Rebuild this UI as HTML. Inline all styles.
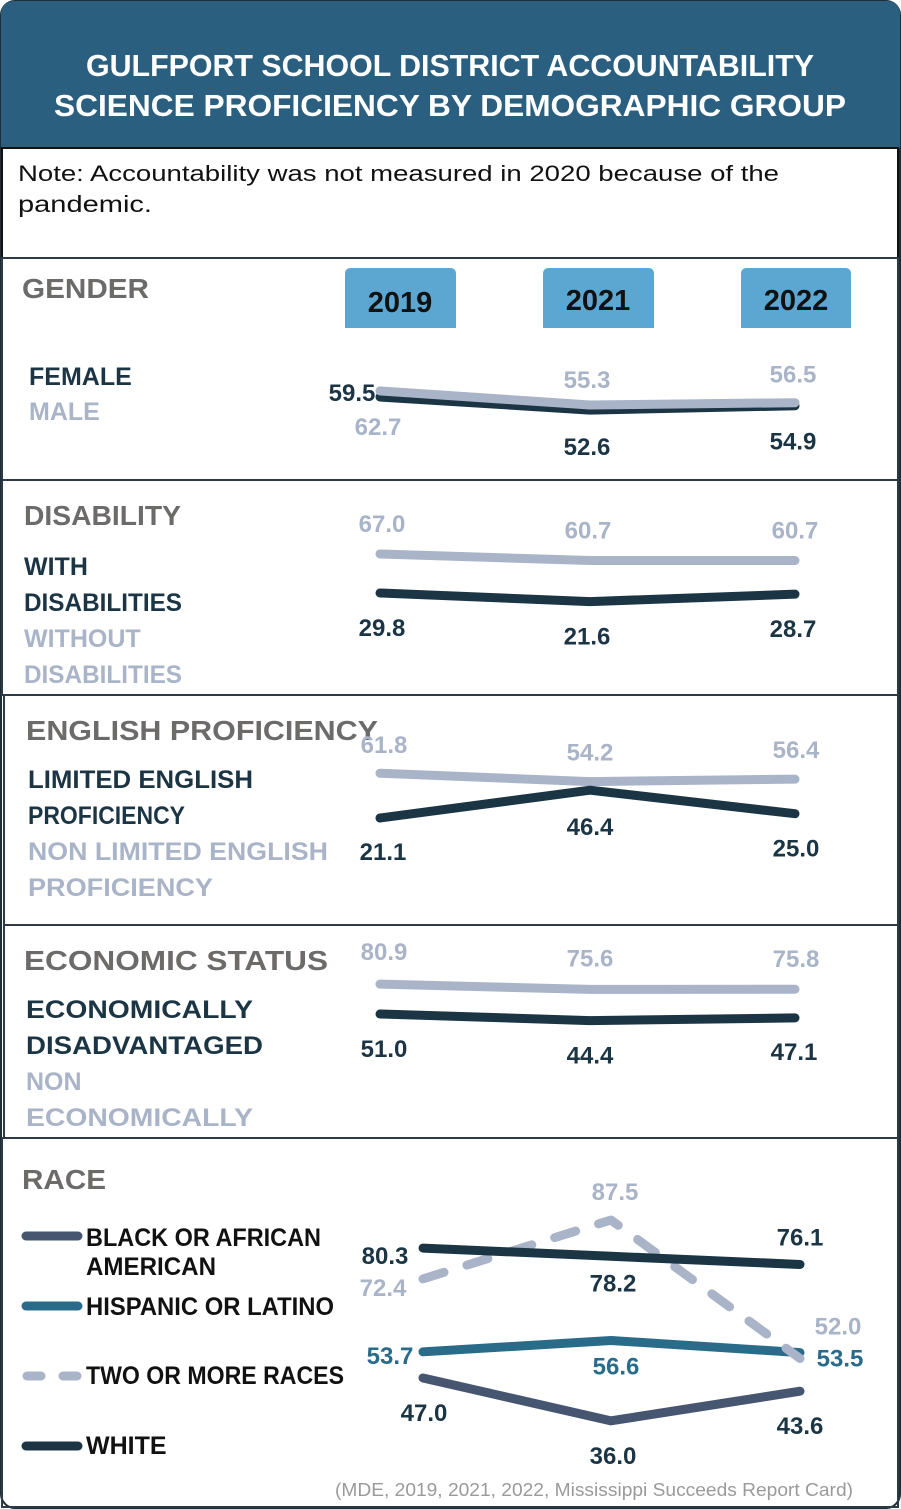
<!DOCTYPE html>
<html><head><meta charset="utf-8"><style>
html,body{margin:0;padding:0;background:#fff;}
svg{display:block;font-family:"Liberation Sans",sans-serif;}
.h{font-weight:bold;font-size:28px;fill:#6d6a6a;}
.s{font-weight:bold;font-size:25px;}
.v{font-weight:bold;font-size:24px;text-anchor:middle;}
</style></head><body>
<svg id="c" width="901" height="1509" viewBox="0 0 901 1509">
<rect x="1" y="1" width="899" height="1507" rx="14" fill="#fff" stroke="#1f2d36" stroke-width="2"/>
<path d="M1 148 V15 Q1 1 15 1 H886 Q900 1 900 15 V148 Z" fill="#2a5f80"/>
<text x="450" y="76" text-anchor="middle" fill="#fff" font-weight="bold" font-size="31" textLength="728" lengthAdjust="spacingAndGlyphs">GULFPORT SCHOOL DISTRICT ACCOUNTABILITY</text>
<text x="450" y="116" text-anchor="middle" fill="#fff" font-weight="bold" font-size="31" textLength="792" lengthAdjust="spacingAndGlyphs">SCIENCE PROFICIENCY BY DEMOGRAPHIC GROUP</text>
<rect x="2" y="148" width="896" height="110" fill="#fff" stroke="#111" stroke-width="2"/>
<text x="18" y="181" font-size="22" fill="#111" textLength="761" lengthAdjust="spacingAndGlyphs">Note: Accountability was not measured in 2020 because of the</text>
<text x="18" y="212" font-size="23" fill="#111" textLength="134" lengthAdjust="spacingAndGlyphs">pandemic.</text>
<rect x="2" y="258" width="896" height="222" fill="none" stroke="#2b3a44" stroke-width="2"/>
<rect x="2" y="480" width="896" height="215" fill="none" stroke="#2b3a44" stroke-width="2"/>
<rect x="4" y="695" width="894" height="230" fill="none" stroke="#2b3a44" stroke-width="2"/>
<rect x="4" y="925" width="894" height="213" fill="none" stroke="#2b3a44" stroke-width="2"/>
<rect x="2" y="1138" width="896" height="369" fill="none" stroke="#2b3a44" stroke-width="2"/>
<g>
<path d="M345 328 V274 Q345 268 351 268 H450 Q456 268 456 274 V328 Z" fill="#5ba7d1"/>
<path d="M543 328 V274 Q543 268 549 268 H648 Q654 268 654 274 V328 Z" fill="#5ba7d1"/>
<path d="M741 328 V274 Q741 268 747 268 H845 Q851 268 851 274 V328 Z" fill="#5ba7d1"/>
<text x="400" y="312" text-anchor="middle" font-weight="bold" font-size="29" fill="#111">2019</text>
<text x="598" y="310" text-anchor="middle" font-weight="bold" font-size="29" fill="#111">2021</text>
<text x="796" y="310" text-anchor="middle" font-weight="bold" font-size="29" fill="#111">2022</text>
</g>
<text class="h" x="22" y="298" textLength="127" lengthAdjust="spacingAndGlyphs">GENDER</text>
<text class="s" x="29" y="385" fill="#1b3545">FEMALE</text>
<text class="s" x="29" y="420" fill="#aab4c8">MALE</text>
<text class="h" x="24" y="525" textLength="157" lengthAdjust="spacingAndGlyphs">DISABILITY</text>
<text class="s" x="24" y="575" fill="#1b3545">WITH</text>
<text class="s" x="24" y="611" fill="#1b3545" textLength="158" lengthAdjust="spacingAndGlyphs">DISABILITIES</text>
<text class="s" x="24" y="647" fill="#aab4c8">WITHOUT</text>
<text class="s" x="24" y="683" fill="#aab4c8" textLength="158" lengthAdjust="spacingAndGlyphs">DISABILITIES</text>
<text class="h" x="26" y="740" textLength="352" lengthAdjust="spacingAndGlyphs">ENGLISH PROFICIENCY</text>
<text class="s" x="28" y="788" fill="#1b3545" textLength="225" lengthAdjust="spacingAndGlyphs">LIMITED ENGLISH</text>
<text class="s" x="28" y="824" fill="#1b3545" textLength="157" lengthAdjust="spacingAndGlyphs">PROFICIENCY</text>
<text class="s" x="28" y="860" fill="#aab4c8" textLength="300" lengthAdjust="spacingAndGlyphs">NON LIMITED ENGLISH</text>
<text class="s" x="28" y="896" fill="#aab4c8" textLength="185" lengthAdjust="spacingAndGlyphs">PROFICIENCY</text>
<text class="h" x="24" y="970" textLength="304" lengthAdjust="spacingAndGlyphs">ECONOMIC STATUS</text>
<text class="s" x="26" y="1018" fill="#1b3545" textLength="227" lengthAdjust="spacingAndGlyphs">ECONOMICALLY</text>
<text class="s" x="26" y="1054" fill="#1b3545" textLength="237" lengthAdjust="spacingAndGlyphs">DISADVANTAGED</text>
<text class="s" x="26" y="1090" fill="#aab4c8">NON</text>
<text class="s" x="26" y="1126" fill="#aab4c8" textLength="227" lengthAdjust="spacingAndGlyphs">ECONOMICALLY</text>
<text class="h" x="22" y="1189" textLength="84" lengthAdjust="spacingAndGlyphs">RACE</text>
<g>
<line x1="26" y1="1236" x2="78" y2="1236" stroke="#465570" stroke-width="9" stroke-linecap="round"/>
<text class="s" x="86" y="1246" fill="#111" font-size="24" textLength="235" lengthAdjust="spacingAndGlyphs">BLACK OR AFRICAN</text>
<text class="s" x="86" y="1275" fill="#111" font-size="24" textLength="130" lengthAdjust="spacingAndGlyphs">AMERICAN</text>
<line x1="26" y1="1306" x2="78" y2="1306" stroke="#2a6b8a" stroke-width="9" stroke-linecap="round"/>
<text class="s" x="86" y="1315" fill="#111" font-size="24" textLength="248" lengthAdjust="spacingAndGlyphs">HISPANIC OR LATINO</text>
<line x1="27" y1="1376" x2="78" y2="1376" stroke="#aab4c8" stroke-width="9" stroke-linecap="round" stroke-dasharray="14 22"/>
<text class="s" x="86" y="1384" fill="#111" font-size="24" textLength="258" lengthAdjust="spacingAndGlyphs">TWO OR MORE RACES</text>
<line x1="26" y1="1446" x2="78" y2="1446" stroke="#1b3545" stroke-width="9" stroke-linecap="round"/>
<text class="s" x="86" y="1454" fill="#111" font-size="24">WHITE</text>
</g>
<text x="853" y="1496" text-anchor="end" font-size="18" fill="#9a9a9a" textLength="518" lengthAdjust="spacingAndGlyphs">(MDE, 2019, 2021, 2022, Mississippi Succeeds Report Card)</text>
<g id="marks"></g>
</svg>
<script>
const years = ["2019", "2021", "2022"];
const femaleVals = [59.5, 52.6, 54.9];
const maleVals = [62.7, 55.3, 56.5];
const withDisVals = [29.8, 21.6, 28.7];
const withoutDisVals = [67.0, 60.7, 60.7];
const lepVals = [21.1, 46.4, 25.0];
const nonLepVals = [61.8, 54.2, 56.4];
const econDisVals = [51.0, 44.4, 47.1];
const nonEconVals = [80.9, 75.6, 75.8];
const blackVals = [47.0, 36.0, 43.6];
const hispanicVals = [53.7, 56.6, 53.5];
const twoMoreVals = [72.4, 87.5, 52.0];
const whiteVals = [80.3, 78.2, 76.1];

const NS = "http://www.w3.org/2000/svg";
const g = document.getElementById("marks");
const xPanel = i => [380, 590, 795][i];
const xRace = i => [423, 611, 800][i];
const DARK = "#1b3545", LIGHT = "#aab4c8";

function drawSeries(name, vals, xf, yf, color, dash, offs, lblColor) {
  const pts = vals.map((v, i) => [xf(i), yf(v)]);
  const pl = document.createElementNS(NS, "polyline");
  pl.setAttribute("points", pts.map(p => p.join(",")).join(" "));
  pl.setAttribute("fill", "none");
  pl.setAttribute("stroke", color);
  pl.setAttribute("stroke-width", "9");
  pl.setAttribute("stroke-linecap", "round");
  pl.setAttribute("stroke-linejoin", "round");
  if (dash) pl.setAttribute("stroke-dasharray", dash);
  
  
  g.appendChild(pl);
  vals.forEach((v, i) => {
    const t = document.createElementNS(NS, "text");
    t.setAttribute("class", "v");
    t.setAttribute("x", pts[i][0] + offs[i][0]);
    t.setAttribute("y", pts[i][1] + offs[i][1]);
    t.setAttribute("fill", lblColor || color);
    t.textContent = v.toFixed(1);
    
    
    g.appendChild(t);
  });
}

const yGender = v => 397 - 1.9 * (v - 59.5);
drawSeries("female", femaleVals, xPanel, yGender, DARK, null, [[-28, 4], [-3, 45], [-2, 44]]);
drawSeries("male", maleVals, xPanel, yGender, LIGHT, null, [[-2, 44], [-3, -17], [-2, -20]]);

const yDis = v => 593 - 1.05 * (v - 29.8);
drawSeries("without-disabilities", withoutDisVals, xPanel, yDis, LIGHT, null, [[2, -22], [-2, -22], [0, -22]]);
drawSeries("with-disabilities", withDisVals, xPanel, yDis, DARK, null, [[2, 43], [-3, 43], [-2, 43]]);

const yEng = v => 818 - 1.1 * (v - 21.1);
drawSeries("non-lep", nonLepVals, xPanel, yEng, LIGHT, null, [[4, -20], [0, -21], [1, -21]]);
drawSeries("lep", lepVals, xPanel, yEng, DARK, null, [[3, 42], [0, 45], [1, 43]]);

const yEcon = v => 1014 - 1.0 * (v - 51);
drawSeries("non-econ", nonEconVals, xPanel, yEcon, LIGHT, null, [[4, -24], [0, -23], [1, -22]]);
drawSeries("econ-dis", econDisVals, xPanel, yEcon, DARK, null, [[4, 43], [0, 43], [-1, 42]]);

const yRace = v => 1220 + 3.9 * (87.5 - v);
drawSeries("black", blackVals, xRace, yRace, "#465570", null, [[1, 43], [2, 43], [0, 43]], "#1b3545");
drawSeries("hispanic", hispanicVals, xRace, yRace, "#2a6b8a", null, [[-33, 12], [5, 34], [40, 14]]);
drawSeries("two-or-more", twoMoreVals, xRace, yRace, LIGHT, "22 24", [[-40, 17], [4, -20], [38, -24]]);
drawSeries("white", whiteVals, xRace, yRace, DARK, null, [[-38, 16], [2, 35], [0, -19]]);
</script>
</body></html>
